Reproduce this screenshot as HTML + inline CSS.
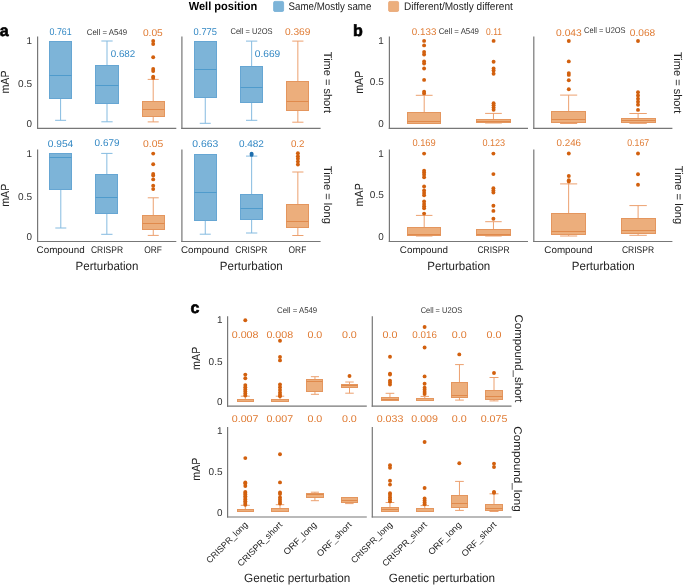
<!DOCTYPE html>
<html><head><meta charset="utf-8"><style>
html,body{margin:0;padding:0;background:#fff;width:685px;height:585px;overflow:hidden}
svg{display:block;will-change:transform}
text{font-family:"Liberation Sans", sans-serif;text-rendering:geometricPrecision}
</style></head><body>
<svg width="685" height="585" viewBox="0 0 685 585">
<rect width="685" height="585" fill="#ffffff"/>
<text x="188.7" y="9.6" font-size="11.6" fill="#000000" text-anchor="start" textLength="68.7" lengthAdjust="spacingAndGlyphs" font-weight="bold">Well position</text>
<rect x="273.6" y="1.4" width="10" height="10.1" rx="1.3" fill="#7db4d8" stroke="#74aed6" stroke-width="0.8"/>
<text x="288.6" y="9.8" font-size="11" fill="#222222" text-anchor="start" textLength="82.8" lengthAdjust="spacingAndGlyphs">Same/Mostly same</text>
<rect x="388.6" y="1.4" width="10" height="10.1" rx="1.3" fill="#ecae7c" stroke="#e9a472" stroke-width="0.8"/>
<text x="404.1" y="9.8" font-size="11" fill="#222222" text-anchor="start" textLength="108.7" lengthAdjust="spacingAndGlyphs">Different/Mostly different</text>
<text x="-0.3" y="35.7" font-size="16" fill="#000000" text-anchor="start" font-weight="bold" stroke="#000" stroke-width="0.6">a</text>
<text x="353" y="35.6" font-size="16" fill="#000000" text-anchor="start" font-weight="bold" stroke="#000" stroke-width="0.6">b</text>
<text x="190.6" y="312.8" font-size="16" fill="#000000" text-anchor="start" font-weight="bold" stroke="#000" stroke-width="0.6">c</text>
<line x1="37.6" y1="36.4" x2="37.6" y2="128.9" stroke="#777777" stroke-width="1.2"/>
<line x1="37" y1="128.3" x2="176.3" y2="128.3" stroke="#777777" stroke-width="1.2"/>
<line x1="181.9" y1="36.4" x2="181.9" y2="128.9" stroke="#777777" stroke-width="1.2"/>
<line x1="181.3" y1="128.3" x2="320.6" y2="128.3" stroke="#777777" stroke-width="1.2"/>
<text x="32.1" y="44.04" font-size="9.9" fill="#333333" text-anchor="end">1</text>
<text x="32.1" y="86.74" font-size="9.9" fill="#333333" text-anchor="end" textLength="14" lengthAdjust="spacingAndGlyphs">0.5</text>
<text x="32.1" y="127.14" font-size="9.9" fill="#333333" text-anchor="end">0</text>
<text x="0" y="0" font-size="11.8" fill="#222222" text-anchor="middle" textLength="23.2" lengthAdjust="spacingAndGlyphs" transform="translate(5.1 82) rotate(-90) translate(0 4.22)">mAP</text>
<line x1="37.6" y1="149.6" x2="37.6" y2="242.1" stroke="#777777" stroke-width="1.2"/>
<line x1="37" y1="241.5" x2="176.3" y2="241.5" stroke="#777777" stroke-width="1.2"/>
<line x1="181.9" y1="149.6" x2="181.9" y2="242.1" stroke="#777777" stroke-width="1.2"/>
<line x1="181.3" y1="241.5" x2="320.6" y2="241.5" stroke="#777777" stroke-width="1.2"/>
<text x="32.1" y="157.24" font-size="9.9" fill="#333333" text-anchor="end">1</text>
<text x="32.1" y="199.94" font-size="9.9" fill="#333333" text-anchor="end" textLength="14" lengthAdjust="spacingAndGlyphs">0.5</text>
<text x="32.1" y="240.34" font-size="9.9" fill="#333333" text-anchor="end">0</text>
<text x="0" y="0" font-size="11.8" fill="#222222" text-anchor="middle" textLength="23.2" lengthAdjust="spacingAndGlyphs" transform="translate(5.1 195.2) rotate(-90) translate(0 4.22)">mAP</text>
<line x1="60.6" y1="99" x2="60.6" y2="120.3" stroke="#85bbe0" stroke-width="1"/>
<line x1="55.1" y1="120.3" x2="66.1" y2="120.3" stroke="#85bbe0" stroke-width="1"/>
<rect x="49.5" y="41.5" width="22" height="57" fill="#7db4d8" stroke="#66a6d3" stroke-width="1"/>
<line x1="49.5" y1="75.5" x2="71.5" y2="75.5" stroke="#4f9bcc" stroke-width="1"/>
<line x1="107" y1="41" x2="107" y2="65" stroke="#85bbe0" stroke-width="1"/>
<line x1="101.35" y1="41" x2="112.65" y2="41" stroke="#85bbe0" stroke-width="1"/>
<line x1="107" y1="104" x2="107" y2="121.8" stroke="#85bbe0" stroke-width="1"/>
<line x1="101.35" y1="121.8" x2="112.65" y2="121.8" stroke="#85bbe0" stroke-width="1"/>
<rect x="95.5" y="65.5" width="23" height="38" fill="#7db4d8" stroke="#66a6d3" stroke-width="1"/>
<line x1="95.5" y1="85.5" x2="118.5" y2="85.5" stroke="#4f9bcc" stroke-width="1"/>
<line x1="153.2" y1="79.4" x2="153.2" y2="101" stroke="#eca06f" stroke-width="1"/>
<line x1="147.7" y1="79.4" x2="158.7" y2="79.4" stroke="#eca06f" stroke-width="1"/>
<line x1="153.2" y1="117" x2="153.2" y2="121.9" stroke="#eca06f" stroke-width="1"/>
<line x1="147.7" y1="121.9" x2="158.7" y2="121.9" stroke="#eca06f" stroke-width="1"/>
<rect x="142.5" y="101.5" width="22" height="15" fill="#ecae7c" stroke="#e4965e" stroke-width="1"/>
<line x1="142.5" y1="109.5" x2="164.5" y2="109.5" stroke="#e08a4c" stroke-width="1"/>
<circle cx="153.2" cy="41" r="1.95" fill="#d2600e"/>
<circle cx="153.2" cy="44" r="1.95" fill="#d2600e"/>
<circle cx="153.2" cy="57.3" r="1.95" fill="#d2600e"/>
<circle cx="153.2" cy="69" r="1.95" fill="#d2600e"/>
<circle cx="153.2" cy="71" r="1.95" fill="#d2600e"/>
<circle cx="153.2" cy="76.8" r="1.95" fill="#d2600e"/>
<circle cx="153.2" cy="77.9" r="1.95" fill="#d2600e"/>
<line x1="205.25" y1="98" x2="205.25" y2="123.3" stroke="#85bbe0" stroke-width="1"/>
<line x1="199.75" y1="123.3" x2="210.75" y2="123.3" stroke="#85bbe0" stroke-width="1"/>
<rect x="194.5" y="41.5" width="22" height="56" fill="#7db4d8" stroke="#66a6d3" stroke-width="1"/>
<line x1="194.5" y1="69.5" x2="216.5" y2="69.5" stroke="#4f9bcc" stroke-width="1"/>
<line x1="251.65" y1="41.1" x2="251.65" y2="66" stroke="#85bbe0" stroke-width="1"/>
<line x1="246" y1="41.1" x2="257.3" y2="41.1" stroke="#85bbe0" stroke-width="1"/>
<line x1="251.65" y1="103" x2="251.65" y2="120.3" stroke="#85bbe0" stroke-width="1"/>
<line x1="246" y1="120.3" x2="257.3" y2="120.3" stroke="#85bbe0" stroke-width="1"/>
<rect x="240.5" y="66.5" width="22" height="36" fill="#7db4d8" stroke="#66a6d3" stroke-width="1"/>
<line x1="240.5" y1="87.5" x2="262.5" y2="87.5" stroke="#4f9bcc" stroke-width="1"/>
<line x1="297.85" y1="41.1" x2="297.85" y2="81" stroke="#eca06f" stroke-width="1"/>
<line x1="292.25" y1="41.1" x2="303.45" y2="41.1" stroke="#eca06f" stroke-width="1"/>
<line x1="297.85" y1="111" x2="297.85" y2="122.2" stroke="#eca06f" stroke-width="1"/>
<line x1="292.25" y1="122.2" x2="303.45" y2="122.2" stroke="#eca06f" stroke-width="1"/>
<rect x="286.5" y="81.5" width="22" height="29" fill="#ecae7c" stroke="#e4965e" stroke-width="1"/>
<line x1="286.5" y1="101.5" x2="308.5" y2="101.5" stroke="#e08a4c" stroke-width="1"/>
<line x1="60.8" y1="190" x2="60.8" y2="228" stroke="#85bbe0" stroke-width="1"/>
<line x1="55.3" y1="228" x2="66.3" y2="228" stroke="#85bbe0" stroke-width="1"/>
<rect x="49.5" y="153.5" width="22" height="36" fill="#7db4d8" stroke="#66a6d3" stroke-width="1"/>
<line x1="49.5" y1="157.5" x2="71.5" y2="157.5" stroke="#4f9bcc" stroke-width="1"/>
<line x1="106.85" y1="153.4" x2="106.85" y2="174" stroke="#85bbe0" stroke-width="1"/>
<line x1="101.2" y1="153.4" x2="112.5" y2="153.4" stroke="#85bbe0" stroke-width="1"/>
<line x1="106.85" y1="214" x2="106.85" y2="234.3" stroke="#85bbe0" stroke-width="1"/>
<line x1="101.2" y1="234.3" x2="112.5" y2="234.3" stroke="#85bbe0" stroke-width="1"/>
<rect x="95.5" y="174.5" width="22" height="39" fill="#7db4d8" stroke="#66a6d3" stroke-width="1"/>
<line x1="95.5" y1="197.5" x2="117.5" y2="197.5" stroke="#4f9bcc" stroke-width="1"/>
<line x1="153.25" y1="197.8" x2="153.25" y2="215" stroke="#eca06f" stroke-width="1"/>
<line x1="147.75" y1="197.8" x2="158.75" y2="197.8" stroke="#eca06f" stroke-width="1"/>
<line x1="153.25" y1="230" x2="153.25" y2="235.4" stroke="#eca06f" stroke-width="1"/>
<line x1="147.75" y1="235.4" x2="158.75" y2="235.4" stroke="#eca06f" stroke-width="1"/>
<rect x="142.5" y="215.5" width="22" height="14" fill="#ecae7c" stroke="#e4965e" stroke-width="1"/>
<line x1="142.5" y1="223.5" x2="164.5" y2="223.5" stroke="#e08a4c" stroke-width="1"/>
<circle cx="153.2" cy="153.6" r="1.95" fill="#d2600e"/>
<circle cx="153.2" cy="164.2" r="1.95" fill="#d2600e"/>
<circle cx="153.2" cy="173.9" r="1.95" fill="#d2600e"/>
<circle cx="153.2" cy="175.6" r="1.95" fill="#d2600e"/>
<circle cx="153.2" cy="179.4" r="1.95" fill="#d2600e"/>
<circle cx="153.2" cy="185.7" r="1.95" fill="#d2600e"/>
<circle cx="153.2" cy="189.1" r="1.95" fill="#d2600e"/>
<line x1="205.25" y1="221" x2="205.25" y2="234.2" stroke="#85bbe0" stroke-width="1"/>
<line x1="199.75" y1="234.2" x2="210.75" y2="234.2" stroke="#85bbe0" stroke-width="1"/>
<rect x="194.5" y="154.5" width="22" height="66" fill="#7db4d8" stroke="#66a6d3" stroke-width="1"/>
<line x1="194.5" y1="192.5" x2="216.5" y2="192.5" stroke="#4f9bcc" stroke-width="1"/>
<line x1="251.65" y1="156.1" x2="251.65" y2="194" stroke="#85bbe0" stroke-width="1"/>
<line x1="246" y1="156.1" x2="257.3" y2="156.1" stroke="#85bbe0" stroke-width="1"/>
<line x1="251.65" y1="220" x2="251.65" y2="233" stroke="#85bbe0" stroke-width="1"/>
<line x1="246" y1="233" x2="257.3" y2="233" stroke="#85bbe0" stroke-width="1"/>
<rect x="240.5" y="194.5" width="22" height="25" fill="#7db4d8" stroke="#66a6d3" stroke-width="1"/>
<line x1="240.5" y1="208.5" x2="262.5" y2="208.5" stroke="#4f9bcc" stroke-width="1"/>
<circle cx="251.6" cy="153.7" r="1.95" fill="#1f6fae"/>
<circle cx="251.6" cy="154.9" r="1.95" fill="#1f6fae"/>
<line x1="297.85" y1="172" x2="297.85" y2="204" stroke="#eca06f" stroke-width="1"/>
<line x1="292.25" y1="172" x2="303.45" y2="172" stroke="#eca06f" stroke-width="1"/>
<line x1="297.85" y1="228" x2="297.85" y2="235.5" stroke="#eca06f" stroke-width="1"/>
<line x1="292.25" y1="235.5" x2="303.45" y2="235.5" stroke="#eca06f" stroke-width="1"/>
<rect x="286.5" y="204.5" width="22" height="23" fill="#ecae7c" stroke="#e4965e" stroke-width="1"/>
<line x1="286.5" y1="221.5" x2="308.5" y2="221.5" stroke="#e08a4c" stroke-width="1"/>
<circle cx="297.9" cy="153.3" r="1.95" fill="#d2600e"/>
<circle cx="297.9" cy="156.3" r="1.95" fill="#d2600e"/>
<circle cx="297.9" cy="158.8" r="1.95" fill="#d2600e"/>
<circle cx="297.9" cy="161.6" r="1.95" fill="#d2600e"/>
<circle cx="297.9" cy="164.5" r="1.95" fill="#d2600e"/>
<text x="60.6" y="35.4" font-size="9.8" fill="#3388c4" text-anchor="middle" textLength="22.2" lengthAdjust="spacingAndGlyphs">0.761</text>
<text x="106.9" y="35.2" font-size="8.3" fill="#333333" text-anchor="middle" textLength="40.3" lengthAdjust="spacingAndGlyphs">Cell = A549</text>
<text x="152.85" y="35.6" font-size="9.8" fill="#e07c35" text-anchor="middle" textLength="19.9" lengthAdjust="spacingAndGlyphs">0.05</text>
<text x="123" y="56.8" font-size="9.8" fill="#3388c4" text-anchor="middle" textLength="24.5" lengthAdjust="spacingAndGlyphs">0.682</text>
<text x="205.3" y="35.2" font-size="9.8" fill="#3388c4" text-anchor="middle" textLength="23.4" lengthAdjust="spacingAndGlyphs">0.775</text>
<text x="251.5" y="34" font-size="8.3" fill="#333333" text-anchor="middle" textLength="42" lengthAdjust="spacingAndGlyphs">Cell = U2OS</text>
<text x="297.65" y="35.2" font-size="9.8" fill="#e07c35" text-anchor="middle" textLength="25.5" lengthAdjust="spacingAndGlyphs">0.369</text>
<text x="267.55" y="56.7" font-size="9.8" fill="#3388c4" text-anchor="middle" textLength="25.5" lengthAdjust="spacingAndGlyphs">0.669</text>
<text x="60.5" y="146.8" font-size="9.8" fill="#3388c4" text-anchor="middle" textLength="25.5" lengthAdjust="spacingAndGlyphs">0.954</text>
<text x="107.05" y="146.4" font-size="9.8" fill="#3388c4" text-anchor="middle" textLength="24.9" lengthAdjust="spacingAndGlyphs">0.679</text>
<text x="153.1" y="146.8" font-size="9.8" fill="#e07c35" text-anchor="middle" textLength="20.2" lengthAdjust="spacingAndGlyphs">0.05</text>
<text x="205.25" y="146.9" font-size="9.8" fill="#3388c4" text-anchor="middle" textLength="26" lengthAdjust="spacingAndGlyphs">0.663</text>
<text x="251.4" y="146.9" font-size="9.8" fill="#3388c4" text-anchor="middle" textLength="25" lengthAdjust="spacingAndGlyphs">0.482</text>
<text x="297.7" y="146.9" font-size="9.8" fill="#e07c35" text-anchor="middle" textLength="13.6" lengthAdjust="spacingAndGlyphs">0.2</text>
<text x="0" y="0" font-size="11.2" fill="#222222" text-anchor="middle" textLength="61.2" lengthAdjust="spacingAndGlyphs" transform="translate(327.9 82.4) rotate(90) translate(0 4.01)">Time = short</text>
<text x="0" y="0" font-size="11.2" fill="#222222" text-anchor="middle" textLength="57.8" lengthAdjust="spacingAndGlyphs" transform="translate(327.9 194.9) rotate(90) translate(0 4.01)">Time = long</text>
<text x="60.65" y="253.1" font-size="9.6" fill="#222222" text-anchor="middle" textLength="48.1" lengthAdjust="spacingAndGlyphs">Compound</text>
<text x="107" y="253.1" font-size="9.6" fill="#222222" text-anchor="middle" textLength="32.1" lengthAdjust="spacingAndGlyphs">CRISPR</text>
<text x="153.15" y="253.1" font-size="9.6" fill="#222222" text-anchor="middle" textLength="17.7" lengthAdjust="spacingAndGlyphs">ORF</text>
<text x="107" y="270" font-size="12" fill="#222222" text-anchor="middle" textLength="62.9" lengthAdjust="spacingAndGlyphs">Perturbation</text>
<text x="204.95" y="253.1" font-size="9.6" fill="#222222" text-anchor="middle" textLength="48.1" lengthAdjust="spacingAndGlyphs">Compound</text>
<text x="251.3" y="253.1" font-size="9.6" fill="#222222" text-anchor="middle" textLength="32.1" lengthAdjust="spacingAndGlyphs">CRISPR</text>
<text x="297.45" y="253.1" font-size="9.6" fill="#222222" text-anchor="middle" textLength="17.7" lengthAdjust="spacingAndGlyphs">ORF</text>
<text x="251.3" y="270" font-size="12" fill="#222222" text-anchor="middle" textLength="62.9" lengthAdjust="spacingAndGlyphs">Perturbation</text>
<line x1="389.4" y1="36.4" x2="389.4" y2="128.9" stroke="#777777" stroke-width="1.2"/>
<line x1="388.8" y1="128.3" x2="528" y2="128.3" stroke="#777777" stroke-width="1.2"/>
<line x1="533.8" y1="36.4" x2="533.8" y2="128.9" stroke="#777777" stroke-width="1.2"/>
<line x1="533.2" y1="128.3" x2="672.4" y2="128.3" stroke="#777777" stroke-width="1.2"/>
<text x="383.8" y="43.94" font-size="9.9" fill="#333333" text-anchor="end">1</text>
<text x="383.8" y="85.14" font-size="9.9" fill="#333333" text-anchor="end" textLength="14" lengthAdjust="spacingAndGlyphs">0.5</text>
<text x="383.8" y="127.14" font-size="9.9" fill="#333333" text-anchor="end">0</text>
<text x="0" y="0" font-size="11.8" fill="#222222" text-anchor="middle" textLength="23.2" lengthAdjust="spacingAndGlyphs" transform="translate(358.4 82.2) rotate(-90) translate(0 4.22)">mAP</text>
<line x1="389.4" y1="149.6" x2="389.4" y2="242.1" stroke="#777777" stroke-width="1.2"/>
<line x1="388.8" y1="241.5" x2="528" y2="241.5" stroke="#777777" stroke-width="1.2"/>
<line x1="533.8" y1="149.6" x2="533.8" y2="242.1" stroke="#777777" stroke-width="1.2"/>
<line x1="533.2" y1="241.5" x2="672.4" y2="241.5" stroke="#777777" stroke-width="1.2"/>
<text x="383.8" y="157.14" font-size="9.9" fill="#333333" text-anchor="end">1</text>
<text x="383.8" y="198.34" font-size="9.9" fill="#333333" text-anchor="end" textLength="14" lengthAdjust="spacingAndGlyphs">0.5</text>
<text x="383.8" y="240.34" font-size="9.9" fill="#333333" text-anchor="end">0</text>
<text x="0" y="0" font-size="11.8" fill="#222222" text-anchor="middle" textLength="23.2" lengthAdjust="spacingAndGlyphs" transform="translate(358.4 194.8) rotate(-90) translate(0 4.22)">mAP</text>
<line x1="424.2" y1="95.3" x2="424.2" y2="112" stroke="#eca06f" stroke-width="1"/>
<line x1="415.8" y1="95.3" x2="432.6" y2="95.3" stroke="#eca06f" stroke-width="1"/>
<line x1="415.8" y1="123.4" x2="432.6" y2="123.4" stroke="#eca06f" stroke-width="1"/>
<rect x="407.5" y="112.5" width="33" height="11" fill="#ecae7c" stroke="#e4965e" stroke-width="1"/>
<line x1="407.5" y1="121.5" x2="440.5" y2="121.5" stroke="#e08a4c" stroke-width="1"/>
<circle cx="424.1" cy="40.9" r="1.95" fill="#d2600e"/>
<circle cx="424.1" cy="45.4" r="1.95" fill="#d2600e"/>
<circle cx="424.1" cy="51.9" r="1.95" fill="#d2600e"/>
<circle cx="424.1" cy="54.5" r="1.95" fill="#d2600e"/>
<circle cx="424.1" cy="61.5" r="1.95" fill="#d2600e"/>
<circle cx="424.1" cy="63.6" r="1.95" fill="#d2600e"/>
<circle cx="424.1" cy="68.5" r="1.95" fill="#d2600e"/>
<circle cx="424.1" cy="79.9" r="1.95" fill="#d2600e"/>
<circle cx="424.1" cy="91.7" r="1.95" fill="#d2600e"/>
<circle cx="424.1" cy="93.4" r="1.95" fill="#d2600e"/>
<line x1="493.45" y1="113.4" x2="493.45" y2="119" stroke="#eca06f" stroke-width="1"/>
<line x1="485.1" y1="113.4" x2="501.8" y2="113.4" stroke="#eca06f" stroke-width="1"/>
<line x1="485.1" y1="123" x2="501.8" y2="123" stroke="#eca06f" stroke-width="1"/>
<rect x="476.5" y="119.5" width="34" height="3" fill="#ecae7c" stroke="#e4965e" stroke-width="1"/>
<line x1="476.5" y1="121.5" x2="510.5" y2="121.5" stroke="#e08a4c" stroke-width="1"/>
<circle cx="493.6" cy="40.9" r="1.95" fill="#d2600e"/>
<circle cx="493.6" cy="61.7" r="1.95" fill="#d2600e"/>
<circle cx="493.6" cy="68.5" r="1.95" fill="#d2600e"/>
<circle cx="493.6" cy="70.6" r="1.95" fill="#d2600e"/>
<circle cx="493.6" cy="73.8" r="1.95" fill="#d2600e"/>
<circle cx="493.6" cy="103.2" r="1.95" fill="#d2600e"/>
<circle cx="493.6" cy="105.3" r="1.95" fill="#d2600e"/>
<circle cx="493.6" cy="107.6" r="1.95" fill="#d2600e"/>
<circle cx="493.6" cy="109.7" r="1.95" fill="#d2600e"/>
<line x1="568.65" y1="95.1" x2="568.65" y2="111" stroke="#eca06f" stroke-width="1"/>
<line x1="560.1" y1="95.1" x2="577.2" y2="95.1" stroke="#eca06f" stroke-width="1"/>
<line x1="568.65" y1="123" x2="568.65" y2="123.5" stroke="#eca06f" stroke-width="1"/>
<line x1="560.1" y1="123.5" x2="577.2" y2="123.5" stroke="#eca06f" stroke-width="1"/>
<rect x="551.5" y="111.5" width="34" height="11" fill="#ecae7c" stroke="#e4965e" stroke-width="1"/>
<line x1="551.5" y1="119.5" x2="585.5" y2="119.5" stroke="#e08a4c" stroke-width="1"/>
<circle cx="568.8" cy="41" r="1.95" fill="#d2600e"/>
<circle cx="568.8" cy="61.4" r="1.95" fill="#d2600e"/>
<circle cx="568.8" cy="73.1" r="1.95" fill="#d2600e"/>
<circle cx="568.8" cy="74.9" r="1.95" fill="#d2600e"/>
<circle cx="568.8" cy="80.3" r="1.95" fill="#d2600e"/>
<circle cx="568.8" cy="89.2" r="1.95" fill="#d2600e"/>
<line x1="638.1" y1="113.5" x2="638.1" y2="118" stroke="#eca06f" stroke-width="1"/>
<line x1="629.4" y1="113.5" x2="646.8" y2="113.5" stroke="#eca06f" stroke-width="1"/>
<line x1="638.1" y1="123" x2="638.1" y2="123.4" stroke="#eca06f" stroke-width="1"/>
<line x1="629.4" y1="123.4" x2="646.8" y2="123.4" stroke="#eca06f" stroke-width="1"/>
<rect x="621.5" y="118.5" width="34" height="4" fill="#ecae7c" stroke="#e4965e" stroke-width="1"/>
<line x1="621.5" y1="120.5" x2="655.5" y2="120.5" stroke="#e08a4c" stroke-width="1"/>
<circle cx="638" cy="41" r="1.95" fill="#d2600e"/>
<circle cx="638" cy="92.3" r="1.95" fill="#d2600e"/>
<circle cx="638" cy="95.4" r="1.95" fill="#d2600e"/>
<circle cx="638" cy="98.7" r="1.95" fill="#d2600e"/>
<circle cx="638" cy="101.8" r="1.95" fill="#d2600e"/>
<circle cx="638" cy="104.8" r="1.95" fill="#d2600e"/>
<circle cx="638" cy="109.9" r="1.95" fill="#d2600e"/>
<line x1="424.2" y1="215.4" x2="424.2" y2="227" stroke="#eca06f" stroke-width="1"/>
<line x1="415.95" y1="215.4" x2="432.45" y2="215.4" stroke="#eca06f" stroke-width="1"/>
<line x1="424.2" y1="236" x2="424.2" y2="236" stroke="#eca06f" stroke-width="1"/>
<line x1="415.95" y1="236" x2="432.45" y2="236" stroke="#eca06f" stroke-width="1"/>
<rect x="407.5" y="227.5" width="33" height="8" fill="#ecae7c" stroke="#e4965e" stroke-width="1"/>
<line x1="407.5" y1="234.5" x2="440.5" y2="234.5" stroke="#e08a4c" stroke-width="1"/>
<circle cx="424.1" cy="153.6" r="1.95" fill="#d2600e"/>
<circle cx="424.1" cy="170.7" r="1.95" fill="#d2600e"/>
<circle cx="424.1" cy="172.6" r="1.95" fill="#d2600e"/>
<circle cx="424.1" cy="174.7" r="1.95" fill="#d2600e"/>
<circle cx="424.1" cy="177.3" r="1.95" fill="#d2600e"/>
<circle cx="424.1" cy="186.5" r="1.95" fill="#d2600e"/>
<circle cx="424.1" cy="190.4" r="1.95" fill="#d2600e"/>
<circle cx="424.1" cy="193" r="1.95" fill="#d2600e"/>
<circle cx="424.1" cy="195.2" r="1.95" fill="#d2600e"/>
<circle cx="424.1" cy="201.5" r="1.95" fill="#d2600e"/>
<circle cx="424.1" cy="204.1" r="1.95" fill="#d2600e"/>
<circle cx="424.1" cy="206.2" r="1.95" fill="#d2600e"/>
<circle cx="424.1" cy="208.3" r="1.95" fill="#d2600e"/>
<circle cx="424.1" cy="213.6" r="1.95" fill="#d2600e"/>
<line x1="493.45" y1="221.7" x2="493.45" y2="229" stroke="#eca06f" stroke-width="1"/>
<line x1="485.2" y1="221.7" x2="501.7" y2="221.7" stroke="#eca06f" stroke-width="1"/>
<line x1="493.45" y1="236" x2="493.45" y2="236" stroke="#eca06f" stroke-width="1"/>
<line x1="485.2" y1="236" x2="501.7" y2="236" stroke="#eca06f" stroke-width="1"/>
<rect x="476.5" y="229.5" width="34" height="6" fill="#ecae7c" stroke="#e4965e" stroke-width="1"/>
<line x1="476.5" y1="234.5" x2="510.5" y2="234.5" stroke="#e08a4c" stroke-width="1"/>
<circle cx="493.4" cy="153.6" r="1.95" fill="#d2600e"/>
<circle cx="493.4" cy="174.1" r="1.95" fill="#d2600e"/>
<circle cx="493.4" cy="188.3" r="1.95" fill="#d2600e"/>
<circle cx="493.4" cy="190.4" r="1.95" fill="#d2600e"/>
<circle cx="493.4" cy="192.5" r="1.95" fill="#d2600e"/>
<circle cx="493.4" cy="205.7" r="1.95" fill="#d2600e"/>
<circle cx="493.4" cy="210.9" r="1.95" fill="#d2600e"/>
<circle cx="493.4" cy="218.8" r="1.95" fill="#d2600e"/>
<line x1="568.65" y1="183.9" x2="568.65" y2="213" stroke="#eca06f" stroke-width="1"/>
<line x1="560.1" y1="183.9" x2="577.2" y2="183.9" stroke="#eca06f" stroke-width="1"/>
<line x1="568.65" y1="235" x2="568.65" y2="236" stroke="#eca06f" stroke-width="1"/>
<line x1="560.1" y1="236" x2="577.2" y2="236" stroke="#eca06f" stroke-width="1"/>
<rect x="551.5" y="213.5" width="34" height="21" fill="#ecae7c" stroke="#e4965e" stroke-width="1"/>
<line x1="551.5" y1="231.5" x2="585.5" y2="231.5" stroke="#e08a4c" stroke-width="1"/>
<circle cx="568.8" cy="153.5" r="1.95" fill="#d2600e"/>
<circle cx="568.8" cy="176" r="1.95" fill="#d2600e"/>
<circle cx="568.8" cy="180.3" r="1.95" fill="#d2600e"/>
<circle cx="568.8" cy="181.6" r="1.95" fill="#d2600e"/>
<line x1="638.1" y1="205.6" x2="638.1" y2="218" stroke="#eca06f" stroke-width="1"/>
<line x1="629.4" y1="205.6" x2="646.8" y2="205.6" stroke="#eca06f" stroke-width="1"/>
<line x1="638.1" y1="234" x2="638.1" y2="235.3" stroke="#eca06f" stroke-width="1"/>
<line x1="629.4" y1="235.3" x2="646.8" y2="235.3" stroke="#eca06f" stroke-width="1"/>
<rect x="621.5" y="218.5" width="34" height="15" fill="#ecae7c" stroke="#e4965e" stroke-width="1"/>
<line x1="621.5" y1="230.5" x2="655.5" y2="230.5" stroke="#e08a4c" stroke-width="1"/>
<circle cx="638" cy="153.5" r="1.95" fill="#d2600e"/>
<circle cx="638" cy="174.2" r="1.95" fill="#d2600e"/>
<circle cx="638" cy="184.7" r="1.95" fill="#d2600e"/>
<text x="424.1" y="35.4" font-size="9.8" fill="#e07c35" text-anchor="middle" textLength="24.5" lengthAdjust="spacingAndGlyphs">0.133</text>
<text x="458.8" y="33.7" font-size="8.3" fill="#333333" text-anchor="middle" textLength="40.3" lengthAdjust="spacingAndGlyphs">Cell = A549</text>
<text x="494" y="35.4" font-size="9.8" fill="#e07c35" text-anchor="middle" textLength="15.8" lengthAdjust="spacingAndGlyphs">0.11</text>
<text x="568.95" y="35.6" font-size="9.8" fill="#e07c35" text-anchor="middle" textLength="25.7" lengthAdjust="spacingAndGlyphs">0.043</text>
<text x="604.8" y="32.8" font-size="8.3" fill="#333333" text-anchor="middle" textLength="41.5" lengthAdjust="spacingAndGlyphs">Cell = U2OS</text>
<text x="642.5" y="35.6" font-size="9.8" fill="#e07c35" text-anchor="middle" textLength="25.4" lengthAdjust="spacingAndGlyphs">0.068</text>
<text x="424.1" y="145.6" font-size="9.8" fill="#e07c35" text-anchor="middle" textLength="23.3" lengthAdjust="spacingAndGlyphs">0.169</text>
<text x="493.8" y="145.6" font-size="9.8" fill="#e07c35" text-anchor="middle" textLength="22.8" lengthAdjust="spacingAndGlyphs">0.123</text>
<text x="568.8" y="145.6" font-size="9.8" fill="#e07c35" text-anchor="middle" textLength="24.5" lengthAdjust="spacingAndGlyphs">0.246</text>
<text x="638.2" y="145.6" font-size="9.8" fill="#e07c35" text-anchor="middle" textLength="22" lengthAdjust="spacingAndGlyphs">0.167</text>
<text x="0" y="0" font-size="11.2" fill="#222222" text-anchor="middle" textLength="61.2" lengthAdjust="spacingAndGlyphs" transform="translate(678.1 82.6) rotate(90) translate(0 4.01)">Time = short</text>
<text x="0" y="0" font-size="11.2" fill="#222222" text-anchor="middle" textLength="58.5" lengthAdjust="spacingAndGlyphs" transform="translate(678.6 195.1) rotate(90) translate(0 4.01)">Time = long</text>
<text x="423.9" y="253.1" font-size="9.6" fill="#222222" text-anchor="middle" textLength="48.1" lengthAdjust="spacingAndGlyphs">Compound</text>
<text x="493.5" y="253.1" font-size="9.6" fill="#222222" text-anchor="middle" textLength="32.1" lengthAdjust="spacingAndGlyphs">CRISPR</text>
<text x="458.8" y="270" font-size="12" fill="#222222" text-anchor="middle" textLength="62.9" lengthAdjust="spacingAndGlyphs">Perturbation</text>
<text x="568.4" y="253.1" font-size="9.6" fill="#222222" text-anchor="middle" textLength="48.1" lengthAdjust="spacingAndGlyphs">Compound</text>
<text x="638" y="253.1" font-size="9.6" fill="#222222" text-anchor="middle" textLength="32.1" lengthAdjust="spacingAndGlyphs">CRISPR</text>
<text x="603.3" y="270" font-size="12" fill="#222222" text-anchor="middle" textLength="62.9" lengthAdjust="spacingAndGlyphs">Perturbation</text>
<line x1="227.6" y1="316.2" x2="227.6" y2="406.8" stroke="#777777" stroke-width="1.2"/>
<line x1="227" y1="406.2" x2="366.8" y2="406.2" stroke="#777777" stroke-width="1.2"/>
<line x1="372.3" y1="316.2" x2="372.3" y2="406.8" stroke="#777777" stroke-width="1.2"/>
<line x1="371.7" y1="406.2" x2="511.5" y2="406.2" stroke="#777777" stroke-width="1.2"/>
<text x="222.6" y="323.34" font-size="9.9" fill="#333333" text-anchor="end">1</text>
<text x="222.6" y="364.54" font-size="9.9" fill="#333333" text-anchor="end" textLength="14" lengthAdjust="spacingAndGlyphs">0.5</text>
<text x="222.6" y="405.04" font-size="9.9" fill="#333333" text-anchor="end">0</text>
<text x="0" y="0" font-size="11.8" fill="#222222" text-anchor="middle" textLength="23.2" lengthAdjust="spacingAndGlyphs" transform="translate(196 358.3) rotate(-90) translate(0 4.22)">mAP</text>
<line x1="227.6" y1="427" x2="227.6" y2="517.6" stroke="#777777" stroke-width="1.2"/>
<line x1="227" y1="517" x2="366.8" y2="517" stroke="#777777" stroke-width="1.2"/>
<line x1="372.3" y1="427" x2="372.3" y2="517.6" stroke="#777777" stroke-width="1.2"/>
<line x1="371.7" y1="517" x2="511.5" y2="517" stroke="#777777" stroke-width="1.2"/>
<text x="222.6" y="434.14" font-size="9.9" fill="#333333" text-anchor="end">1</text>
<text x="222.6" y="475.34" font-size="9.9" fill="#333333" text-anchor="end" textLength="14" lengthAdjust="spacingAndGlyphs">0.5</text>
<text x="222.6" y="515.84" font-size="9.9" fill="#333333" text-anchor="end">0</text>
<text x="0" y="0" font-size="11.8" fill="#222222" text-anchor="middle" textLength="23.2" lengthAdjust="spacingAndGlyphs" transform="translate(196 469.1) rotate(-90) translate(0 4.22)">mAP</text>
<text x="297.1" y="313.1" font-size="8.3" fill="#333333" text-anchor="middle" textLength="40.2" lengthAdjust="spacingAndGlyphs">Cell = A549</text>
<text x="441.5" y="313" font-size="8.3" fill="#333333" text-anchor="middle" textLength="41.5" lengthAdjust="spacingAndGlyphs">Cell = U2OS</text>
<line x1="245.3" y1="396.2" x2="245.3" y2="399" stroke="#eca06f" stroke-width="1"/>
<line x1="240.75" y1="396.2" x2="249.85" y2="396.2" stroke="#eca06f" stroke-width="1"/>
<rect x="237.5" y="399.5" width="16" height="2" fill="#ecae7c" stroke="#e4965e" stroke-width="1"/>
<circle cx="245.3" cy="320.2" r="1.95" fill="#d2600e"/>
<circle cx="245.3" cy="374.6" r="1.95" fill="#d2600e"/>
<circle cx="245.3" cy="378.2" r="1.95" fill="#d2600e"/>
<circle cx="245.3" cy="385.1" r="1.95" fill="#d2600e"/>
<circle cx="245.3" cy="387.3" r="1.95" fill="#d2600e"/>
<circle cx="245.3" cy="389.4" r="1.95" fill="#d2600e"/>
<circle cx="245.3" cy="391.5" r="1.95" fill="#d2600e"/>
<circle cx="245.3" cy="393.6" r="1.95" fill="#d2600e"/>
<circle cx="245.3" cy="395.6" r="1.95" fill="#d2600e"/>
<line x1="280" y1="396.2" x2="280" y2="399" stroke="#eca06f" stroke-width="1"/>
<line x1="275.75" y1="396.2" x2="284.25" y2="396.2" stroke="#eca06f" stroke-width="1"/>
<rect x="271.5" y="399.5" width="17" height="2" fill="#ecae7c" stroke="#e4965e" stroke-width="1"/>
<circle cx="280" cy="340.7" r="1.95" fill="#d2600e"/>
<circle cx="280" cy="357" r="1.95" fill="#d2600e"/>
<circle cx="280" cy="360.4" r="1.95" fill="#d2600e"/>
<circle cx="280" cy="384.5" r="1.95" fill="#d2600e"/>
<circle cx="280" cy="387.3" r="1.95" fill="#d2600e"/>
<circle cx="280" cy="390" r="1.95" fill="#d2600e"/>
<circle cx="280" cy="392.6" r="1.95" fill="#d2600e"/>
<circle cx="280" cy="394.7" r="1.95" fill="#d2600e"/>
<circle cx="280" cy="396.3" r="1.95" fill="#d2600e"/>
<line x1="314.95" y1="376.7" x2="314.95" y2="379" stroke="#eca06f" stroke-width="1"/>
<line x1="310.9" y1="376.7" x2="319" y2="376.7" stroke="#eca06f" stroke-width="1"/>
<line x1="314.95" y1="392" x2="314.95" y2="394.3" stroke="#eca06f" stroke-width="1"/>
<line x1="310.9" y1="394.3" x2="319" y2="394.3" stroke="#eca06f" stroke-width="1"/>
<rect x="306.5" y="379.5" width="16" height="12" fill="#ecae7c" stroke="#e4965e" stroke-width="1"/>
<line x1="306.5" y1="381.5" x2="322.5" y2="381.5" stroke="#e08a4c" stroke-width="1"/>
<line x1="349.5" y1="382" x2="349.5" y2="384" stroke="#eca06f" stroke-width="1"/>
<line x1="345.25" y1="382" x2="353.75" y2="382" stroke="#eca06f" stroke-width="1"/>
<line x1="349.5" y1="388" x2="349.5" y2="393.2" stroke="#eca06f" stroke-width="1"/>
<line x1="345.25" y1="393.2" x2="353.75" y2="393.2" stroke="#eca06f" stroke-width="1"/>
<rect x="341.5" y="384.5" width="16" height="3" fill="#ecae7c" stroke="#e4965e" stroke-width="1"/>
<line x1="341.5" y1="385.5" x2="357.5" y2="385.5" stroke="#e08a4c" stroke-width="1"/>
<circle cx="349.5" cy="376" r="1.95" fill="#d2600e"/>
<line x1="389.95" y1="393.3" x2="389.95" y2="397" stroke="#eca06f" stroke-width="1"/>
<line x1="385.6" y1="393.3" x2="394.3" y2="393.3" stroke="#eca06f" stroke-width="1"/>
<rect x="381.5" y="397.5" width="17" height="3" fill="#ecae7c" stroke="#e4965e" stroke-width="1"/>
<line x1="381.5" y1="399.5" x2="398.5" y2="399.5" stroke="#e08a4c" stroke-width="1"/>
<circle cx="390" cy="356.7" r="1.95" fill="#d2600e"/>
<circle cx="390" cy="373.6" r="1.95" fill="#d2600e"/>
<circle cx="390" cy="374.6" r="1.95" fill="#d2600e"/>
<circle cx="390" cy="380.6" r="1.95" fill="#d2600e"/>
<circle cx="390" cy="382.5" r="1.95" fill="#d2600e"/>
<circle cx="390" cy="384.6" r="1.95" fill="#d2600e"/>
<line x1="424.8" y1="396.4" x2="424.8" y2="398" stroke="#eca06f" stroke-width="1"/>
<line x1="420.55" y1="396.4" x2="429.05" y2="396.4" stroke="#eca06f" stroke-width="1"/>
<rect x="416.5" y="398.5" width="17" height="2" fill="#ecae7c" stroke="#e4965e" stroke-width="1"/>
<circle cx="424.6" cy="327" r="1.95" fill="#d2600e"/>
<circle cx="424.6" cy="347.5" r="1.95" fill="#d2600e"/>
<circle cx="424.6" cy="376.4" r="1.95" fill="#d2600e"/>
<circle cx="424.6" cy="383.8" r="1.95" fill="#d2600e"/>
<circle cx="424.6" cy="387.7" r="1.95" fill="#d2600e"/>
<circle cx="424.6" cy="389.8" r="1.95" fill="#d2600e"/>
<circle cx="424.6" cy="391.9" r="1.95" fill="#d2600e"/>
<circle cx="424.6" cy="394" r="1.95" fill="#d2600e"/>
<line x1="459.45" y1="364.6" x2="459.45" y2="382" stroke="#eca06f" stroke-width="1"/>
<line x1="455.1" y1="364.6" x2="463.8" y2="364.6" stroke="#eca06f" stroke-width="1"/>
<line x1="459.45" y1="398" x2="459.45" y2="400.1" stroke="#eca06f" stroke-width="1"/>
<line x1="455.1" y1="400.1" x2="463.8" y2="400.1" stroke="#eca06f" stroke-width="1"/>
<rect x="451.5" y="382.5" width="16" height="15" fill="#ecae7c" stroke="#e4965e" stroke-width="1"/>
<line x1="451.5" y1="395.5" x2="467.5" y2="395.5" stroke="#e08a4c" stroke-width="1"/>
<circle cx="459.3" cy="354.4" r="1.95" fill="#d2600e"/>
<line x1="494" y1="377.5" x2="494" y2="390" stroke="#eca06f" stroke-width="1"/>
<line x1="489.5" y1="377.5" x2="498.5" y2="377.5" stroke="#eca06f" stroke-width="1"/>
<line x1="494" y1="400" x2="494" y2="400.9" stroke="#eca06f" stroke-width="1"/>
<line x1="489.5" y1="400.9" x2="498.5" y2="400.9" stroke="#eca06f" stroke-width="1"/>
<rect x="485.5" y="390.5" width="17" height="9" fill="#ecae7c" stroke="#e4965e" stroke-width="1"/>
<line x1="485.5" y1="396.5" x2="502.5" y2="396.5" stroke="#e08a4c" stroke-width="1"/>
<circle cx="494" cy="373" r="1.95" fill="#d2600e"/>
<line x1="245.3" y1="505.3" x2="245.3" y2="509" stroke="#eca06f" stroke-width="1"/>
<line x1="240.75" y1="505.3" x2="249.85" y2="505.3" stroke="#eca06f" stroke-width="1"/>
<rect x="237.5" y="509.5" width="16" height="2" fill="#ecae7c" stroke="#e4965e" stroke-width="1"/>
<circle cx="245.3" cy="458.1" r="1.95" fill="#d2600e"/>
<circle cx="245.3" cy="482.4" r="1.95" fill="#d2600e"/>
<circle cx="245.3" cy="483.5" r="1.95" fill="#d2600e"/>
<circle cx="245.3" cy="486" r="1.95" fill="#d2600e"/>
<circle cx="245.3" cy="492" r="1.95" fill="#d2600e"/>
<circle cx="245.3" cy="493" r="1.95" fill="#d2600e"/>
<circle cx="245.3" cy="494.5" r="1.95" fill="#d2600e"/>
<circle cx="245.3" cy="496.2" r="1.95" fill="#d2600e"/>
<circle cx="245.3" cy="497.9" r="1.95" fill="#d2600e"/>
<circle cx="245.3" cy="499.6" r="1.95" fill="#d2600e"/>
<circle cx="245.3" cy="501.3" r="1.95" fill="#d2600e"/>
<circle cx="245.3" cy="503" r="1.95" fill="#d2600e"/>
<circle cx="245.3" cy="504.7" r="1.95" fill="#d2600e"/>
<line x1="280" y1="504.7" x2="280" y2="508" stroke="#eca06f" stroke-width="1"/>
<line x1="275.75" y1="504.7" x2="284.25" y2="504.7" stroke="#eca06f" stroke-width="1"/>
<rect x="271.5" y="508.5" width="17" height="3" fill="#ecae7c" stroke="#e4965e" stroke-width="1"/>
<circle cx="280" cy="454.3" r="1.95" fill="#d2600e"/>
<circle cx="280" cy="482.4" r="1.95" fill="#d2600e"/>
<circle cx="280" cy="492.4" r="1.95" fill="#d2600e"/>
<circle cx="280" cy="494.1" r="1.95" fill="#d2600e"/>
<circle cx="280" cy="497.5" r="1.95" fill="#d2600e"/>
<circle cx="280" cy="499.6" r="1.95" fill="#d2600e"/>
<circle cx="280" cy="501.7" r="1.95" fill="#d2600e"/>
<circle cx="280" cy="503.6" r="1.95" fill="#d2600e"/>
<line x1="314.9" y1="492.2" x2="314.9" y2="493" stroke="#eca06f" stroke-width="1"/>
<line x1="310.85" y1="492.2" x2="318.95" y2="492.2" stroke="#eca06f" stroke-width="1"/>
<line x1="314.9" y1="498" x2="314.9" y2="500.7" stroke="#eca06f" stroke-width="1"/>
<line x1="310.85" y1="500.7" x2="318.95" y2="500.7" stroke="#eca06f" stroke-width="1"/>
<rect x="306.5" y="493.5" width="17" height="4" fill="#ecae7c" stroke="#e4965e" stroke-width="1"/>
<line x1="306.5" y1="494.5" x2="323.5" y2="494.5" stroke="#e08a4c" stroke-width="1"/>
<line x1="345.1" y1="503.6" x2="353.6" y2="503.6" stroke="#eca06f" stroke-width="1"/>
<rect x="341.5" y="497.5" width="16" height="5" fill="#ecae7c" stroke="#e4965e" stroke-width="1"/>
<line x1="341.5" y1="500.5" x2="357.5" y2="500.5" stroke="#e08a4c" stroke-width="1"/>
<line x1="389.95" y1="502.5" x2="389.95" y2="507" stroke="#eca06f" stroke-width="1"/>
<line x1="385.6" y1="502.5" x2="394.3" y2="502.5" stroke="#eca06f" stroke-width="1"/>
<rect x="381.5" y="507.5" width="17" height="4" fill="#ecae7c" stroke="#e4965e" stroke-width="1"/>
<line x1="381.5" y1="509.5" x2="398.5" y2="509.5" stroke="#e08a4c" stroke-width="1"/>
<circle cx="390" cy="465.2" r="1.95" fill="#d2600e"/>
<circle cx="390" cy="467.8" r="1.95" fill="#d2600e"/>
<circle cx="390" cy="480.7" r="1.95" fill="#d2600e"/>
<circle cx="390" cy="484.6" r="1.95" fill="#d2600e"/>
<circle cx="390" cy="493.3" r="1.95" fill="#d2600e"/>
<circle cx="390" cy="495.1" r="1.95" fill="#d2600e"/>
<circle cx="390" cy="497.2" r="1.95" fill="#d2600e"/>
<circle cx="390" cy="499.3" r="1.95" fill="#d2600e"/>
<circle cx="390" cy="501.4" r="1.95" fill="#d2600e"/>
<line x1="424.8" y1="505.6" x2="424.8" y2="508" stroke="#eca06f" stroke-width="1"/>
<line x1="420.55" y1="505.6" x2="429.05" y2="505.6" stroke="#eca06f" stroke-width="1"/>
<rect x="416.5" y="508.5" width="17" height="3" fill="#ecae7c" stroke="#e4965e" stroke-width="1"/>
<circle cx="424.6" cy="442" r="1.95" fill="#d2600e"/>
<circle cx="424.6" cy="488" r="1.95" fill="#d2600e"/>
<circle cx="424.6" cy="498.5" r="1.95" fill="#d2600e"/>
<circle cx="424.6" cy="500.4" r="1.95" fill="#d2600e"/>
<circle cx="424.6" cy="502.5" r="1.95" fill="#d2600e"/>
<circle cx="424.6" cy="504.3" r="1.95" fill="#d2600e"/>
<line x1="459.45" y1="481.4" x2="459.45" y2="495" stroke="#eca06f" stroke-width="1"/>
<line x1="455.1" y1="481.4" x2="463.8" y2="481.4" stroke="#eca06f" stroke-width="1"/>
<line x1="459.45" y1="508" x2="459.45" y2="510.4" stroke="#eca06f" stroke-width="1"/>
<line x1="455.1" y1="510.4" x2="463.8" y2="510.4" stroke="#eca06f" stroke-width="1"/>
<rect x="451.5" y="495.5" width="16" height="12" fill="#ecae7c" stroke="#e4965e" stroke-width="1"/>
<line x1="451.5" y1="503.5" x2="467.5" y2="503.5" stroke="#e08a4c" stroke-width="1"/>
<circle cx="459.3" cy="463.3" r="1.95" fill="#d2600e"/>
<line x1="494" y1="493.8" x2="494" y2="504" stroke="#eca06f" stroke-width="1"/>
<line x1="489.5" y1="493.8" x2="498.5" y2="493.8" stroke="#eca06f" stroke-width="1"/>
<line x1="494" y1="511" x2="494" y2="511.5" stroke="#eca06f" stroke-width="1"/>
<line x1="489.5" y1="511.5" x2="498.5" y2="511.5" stroke="#eca06f" stroke-width="1"/>
<rect x="485.5" y="504.5" width="17" height="6" fill="#ecae7c" stroke="#e4965e" stroke-width="1"/>
<line x1="485.5" y1="508.5" x2="502.5" y2="508.5" stroke="#e08a4c" stroke-width="1"/>
<circle cx="494" cy="463.6" r="1.95" fill="#d2600e"/>
<circle cx="494" cy="467" r="1.95" fill="#d2600e"/>
<circle cx="494" cy="492" r="1.95" fill="#d2600e"/>
<circle cx="494" cy="492.7" r="1.95" fill="#d2600e"/>
<text x="245.1" y="337.7" font-size="9.8" fill="#e07c35" text-anchor="middle" textLength="26.7" lengthAdjust="spacingAndGlyphs">0.008</text>
<text x="279.8" y="337.7" font-size="9.8" fill="#e07c35" text-anchor="middle" textLength="26.7" lengthAdjust="spacingAndGlyphs">0.008</text>
<text x="314.9" y="337.7" font-size="9.8" fill="#e07c35" text-anchor="middle" textLength="14.9" lengthAdjust="spacingAndGlyphs">0.0</text>
<text x="349.4" y="337.7" font-size="9.8" fill="#e07c35" text-anchor="middle" textLength="14.9" lengthAdjust="spacingAndGlyphs">0.0</text>
<text x="390" y="337.7" font-size="9.8" fill="#e07c35" text-anchor="middle" textLength="14.9" lengthAdjust="spacingAndGlyphs">0.0</text>
<text x="424.6" y="337.7" font-size="9.8" fill="#e07c35" text-anchor="middle" textLength="24.5" lengthAdjust="spacingAndGlyphs">0.016</text>
<text x="459.3" y="337.7" font-size="9.8" fill="#e07c35" text-anchor="middle" textLength="14.9" lengthAdjust="spacingAndGlyphs">0.0</text>
<text x="494" y="337.7" font-size="9.8" fill="#e07c35" text-anchor="middle" textLength="14.9" lengthAdjust="spacingAndGlyphs">0.0</text>
<text x="245.1" y="421.5" font-size="9.8" fill="#e07c35" text-anchor="middle" textLength="26.7" lengthAdjust="spacingAndGlyphs">0.007</text>
<text x="279.8" y="421.5" font-size="9.8" fill="#e07c35" text-anchor="middle" textLength="26.7" lengthAdjust="spacingAndGlyphs">0.007</text>
<text x="314.9" y="421.5" font-size="9.8" fill="#e07c35" text-anchor="middle" textLength="14.9" lengthAdjust="spacingAndGlyphs">0.0</text>
<text x="349.4" y="421.5" font-size="9.8" fill="#e07c35" text-anchor="middle" textLength="14.9" lengthAdjust="spacingAndGlyphs">0.0</text>
<text x="390" y="421.5" font-size="9.8" fill="#e07c35" text-anchor="middle" textLength="26.7" lengthAdjust="spacingAndGlyphs">0.033</text>
<text x="424.6" y="421.5" font-size="9.8" fill="#e07c35" text-anchor="middle" textLength="26.7" lengthAdjust="spacingAndGlyphs">0.009</text>
<text x="459.3" y="421.5" font-size="9.8" fill="#e07c35" text-anchor="middle" textLength="14.9" lengthAdjust="spacingAndGlyphs">0.0</text>
<text x="494" y="421.5" font-size="9.8" fill="#e07c35" text-anchor="middle" textLength="26.7" lengthAdjust="spacingAndGlyphs">0.075</text>
<text x="0" y="0" font-size="11.2" fill="#222222" text-anchor="middle" textLength="88" lengthAdjust="spacingAndGlyphs" transform="translate(519.2 358.5) rotate(90) translate(0 4.01)">Compound_short</text>
<text x="0" y="0" font-size="11.2" fill="#222222" text-anchor="middle" textLength="85.4" lengthAdjust="spacingAndGlyphs" transform="translate(518.4 469) rotate(90) translate(0 4.01)">Compound_long</text>
<text x="0" y="0" font-size="8.8" fill="#222222" text-anchor="end" textLength="54.5" lengthAdjust="spacingAndGlyphs" transform="translate(243.8 520.8) rotate(-45) translate(0 6.3)">CRISPR_long</text>
<text x="0" y="0" font-size="8.8" fill="#222222" text-anchor="end" textLength="59" lengthAdjust="spacingAndGlyphs" transform="translate(278.3 520.8) rotate(-45) translate(0 6.3)">CRISPR_short</text>
<text x="0" y="0" font-size="8.8" fill="#222222" text-anchor="end" textLength="42.8" lengthAdjust="spacingAndGlyphs" transform="translate(312.8 520.8) rotate(-45) translate(0 6.3)">ORF_long</text>
<text x="0" y="0" font-size="8.8" fill="#222222" text-anchor="end" textLength="45.2" lengthAdjust="spacingAndGlyphs" transform="translate(347.8 520.8) rotate(-45) translate(0 6.3)">ORF_short</text>
<text x="297.2" y="582" font-size="12" fill="#222222" text-anchor="middle" textLength="106.3" lengthAdjust="spacingAndGlyphs">Genetic perturbation</text>
<text x="0" y="0" font-size="8.8" fill="#222222" text-anchor="end" textLength="54.5" lengthAdjust="spacingAndGlyphs" transform="translate(388.5 520.8) rotate(-45) translate(0 6.3)">CRISPR_long</text>
<text x="0" y="0" font-size="8.8" fill="#222222" text-anchor="end" textLength="59" lengthAdjust="spacingAndGlyphs" transform="translate(423 520.8) rotate(-45) translate(0 6.3)">CRISPR_short</text>
<text x="0" y="0" font-size="8.8" fill="#222222" text-anchor="end" textLength="42.8" lengthAdjust="spacingAndGlyphs" transform="translate(457.5 520.8) rotate(-45) translate(0 6.3)">ORF_long</text>
<text x="0" y="0" font-size="8.8" fill="#222222" text-anchor="end" textLength="45.2" lengthAdjust="spacingAndGlyphs" transform="translate(492.5 520.8) rotate(-45) translate(0 6.3)">ORF_short</text>
<text x="441.9" y="582" font-size="12" fill="#222222" text-anchor="middle" textLength="106.3" lengthAdjust="spacingAndGlyphs">Genetic perturbation</text>
</svg>
</body></html>
